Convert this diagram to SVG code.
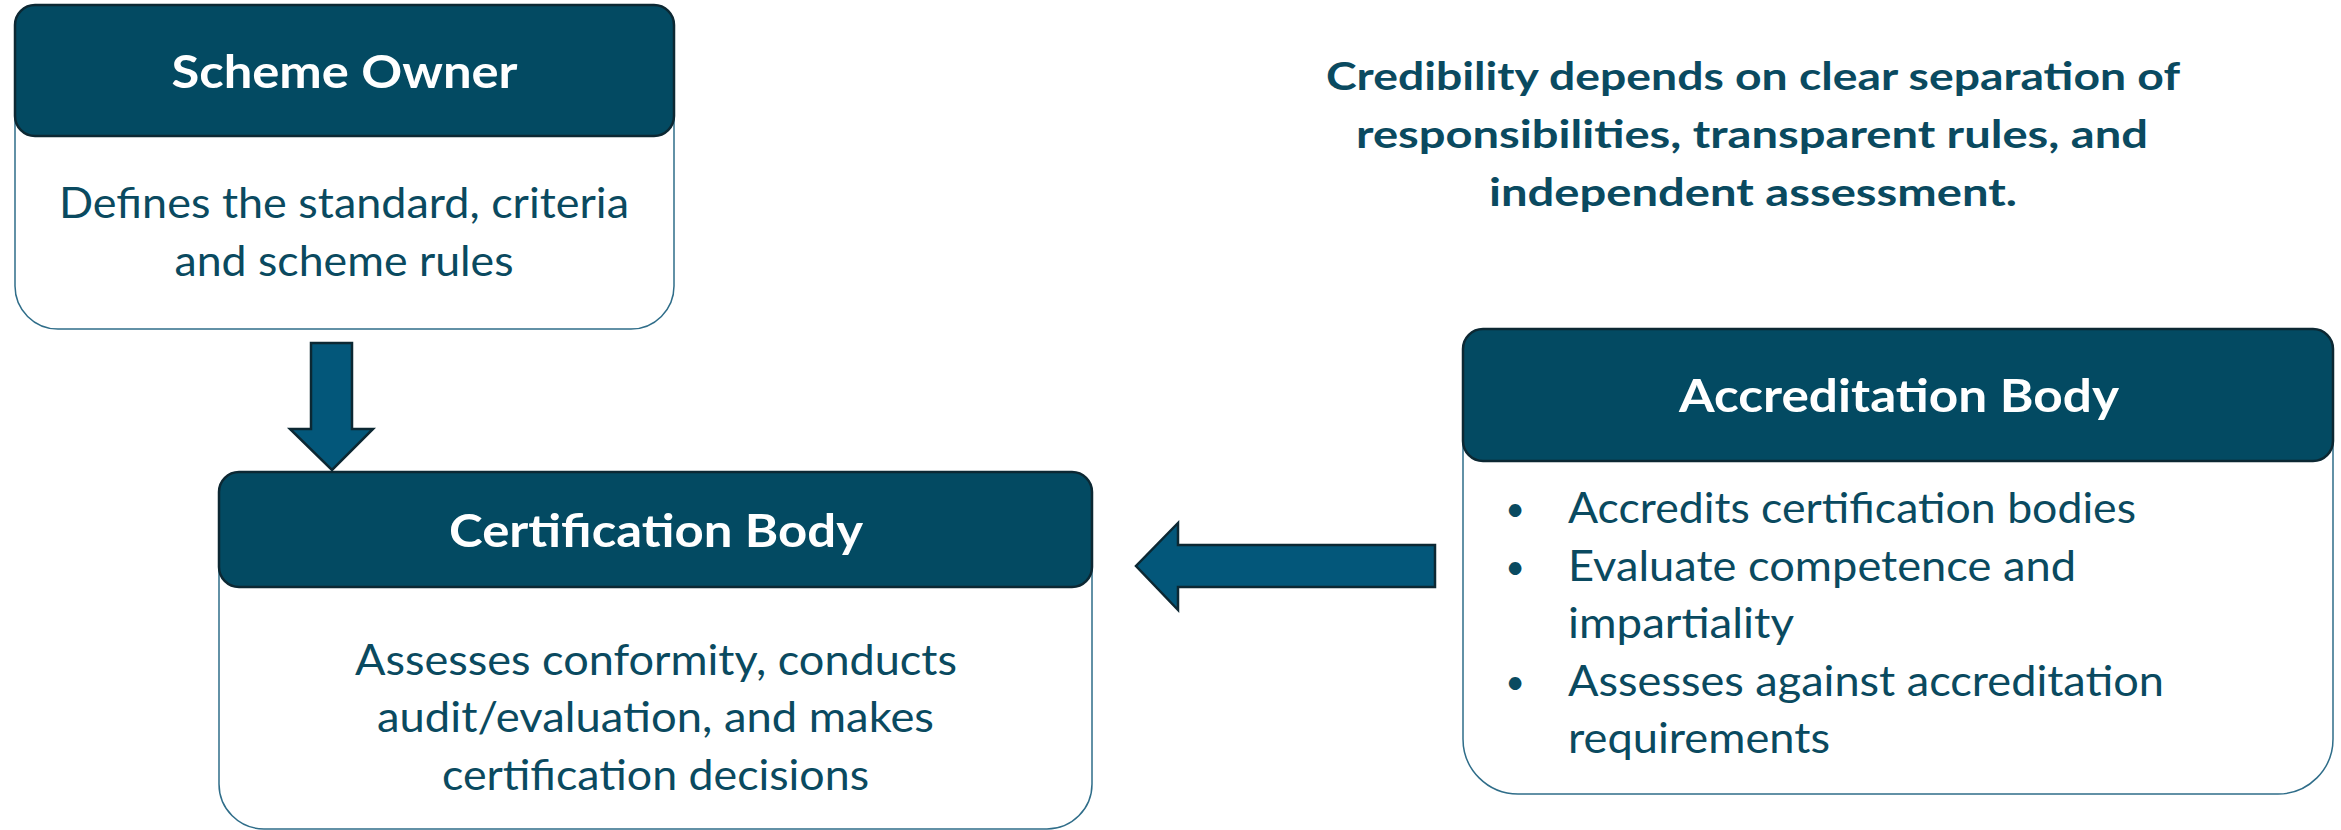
<svg xmlns="http://www.w3.org/2000/svg" width="2341" height="830" viewBox="0 0 2341 830">
  <style>
    .card { fill: #ffffff; stroke: #2f6d89; stroke-width: 1.5; }
    .head { fill: #034a62; stroke: #0c2833; stroke-width: 2.5; }
    .title { font-family: Lato, "Open Sans", "Liberation Sans", sans-serif; font-weight: 700; font-size: 46px; fill: #ffffff; text-anchor: middle; }
    .body { font-family: Lato, "Open Sans", "Liberation Sans", sans-serif; font-size: 43px; fill: #0a4a60; }
    .mid { text-anchor: middle; }
    .dot { font-size: 34px; }
    .note { font-family: Lato, "Open Sans", "Liberation Sans", sans-serif; font-weight: 700; font-size: 39px; fill: #0a4a60; text-anchor: middle; }
    .arrow { fill: #03577a; stroke: #0c2833; stroke-width: 2.5; stroke-linejoin: miter; }
  </style>

  <rect width="2341" height="830" fill="#ffffff"/>

  <!-- Scheme Owner -->
  <g id="scheme-owner">
    <rect class="card" x="15" y="6" width="659" height="323" rx="43" ry="43"/>
    <rect class="head" x="15" y="5" width="659" height="131" rx="20" ry="20"/>
    <text class="title" x="344.5" y="88" textLength="346" lengthAdjust="spacingAndGlyphs">Scheme Owner</text>
    <text class="body mid" x="344" y="218" textLength="570" lengthAdjust="spacingAndGlyphs">Defines the standard, criteria</text>
    <text class="body mid" x="344" y="276" textLength="339" lengthAdjust="spacingAndGlyphs">and scheme rules</text>
  </g>

  <!-- Certification Body -->
  <g id="certification-body">
    <rect class="card" x="219" y="473" width="873" height="356" rx="45" ry="45"/>
    <rect class="head" x="219" y="472" width="873" height="115" rx="20" ry="20"/>
    <text class="title" x="656" y="547" textLength="414" lengthAdjust="spacingAndGlyphs">Certification Body</text>
    <text class="body mid" x="656" y="675" textLength="602" lengthAdjust="spacingAndGlyphs">Assesses conformity, conducts</text>
    <text class="body mid" x="655.5" y="732" textLength="557" lengthAdjust="spacingAndGlyphs">audit/evaluation, and makes</text>
    <text class="body mid" x="655.5" y="790" textLength="427" lengthAdjust="spacingAndGlyphs">certification decisions</text>
  </g>

  <!-- Accreditation Body -->
  <g id="accreditation-body">
    <rect class="card" x="1463" y="330" width="870" height="464" rx="55" ry="55"/>
    <rect class="head" x="1463" y="329" width="870" height="132" rx="20" ry="20"/>
    <text class="title" x="1899" y="412" textLength="440" lengthAdjust="spacingAndGlyphs">Accreditation Body</text>
    <g class="body">
      <text class="mid dot" x="1515" y="521">•</text>
      <text x="1568" y="523" textLength="568" lengthAdjust="spacingAndGlyphs">Accredits certification bodies</text>
      <text class="mid dot" x="1515" y="579">•</text>
      <text x="1568" y="581" textLength="508" lengthAdjust="spacingAndGlyphs">Evaluate competence and</text>
      <text x="1568" y="638" textLength="226" lengthAdjust="spacingAndGlyphs">impartiality</text>
      <text class="mid dot" x="1515" y="694">•</text>
      <text x="1568" y="696" textLength="596" lengthAdjust="spacingAndGlyphs">Assesses against accreditation</text>
      <text x="1568" y="753" textLength="262" lengthAdjust="spacingAndGlyphs">requirements</text>
    </g>
  </g>

  <!-- Statement -->
  <g id="statement">
    <text class="note" x="1753" y="90" textLength="854" lengthAdjust="spacingAndGlyphs">Credibility depends on clear separation of</text>
    <text class="note" x="1752" y="148" textLength="792" lengthAdjust="spacingAndGlyphs">responsibilities, transparent rules, and</text>
    <text class="note" x="1753" y="206" textLength="528" lengthAdjust="spacingAndGlyphs">independent assessment.</text>
  </g>

  <!-- Block arrows between bodies -->
  <g id="connectors">
    <polygon class="arrow" points="311,343 352,343 352,429 373,429 332,470 290,429 311,429"/>
    <polygon class="arrow" points="1435,545 1178,545 1178,523 1136,566 1178,610 1178,587 1435,587"/>
  </g>
</svg>
